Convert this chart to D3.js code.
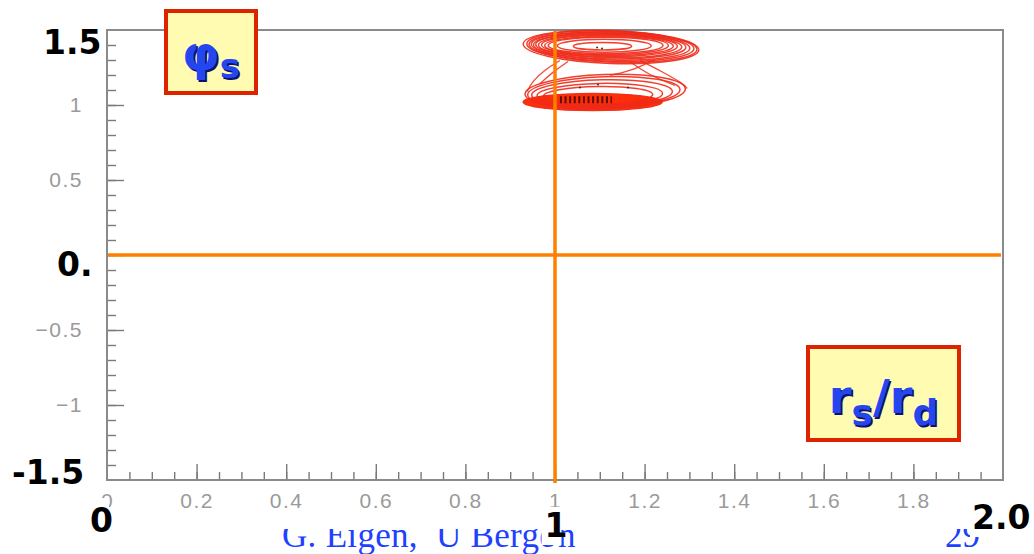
<!DOCTYPE html>
<html>
<head>
<meta charset="utf-8">
<script src="https://cdn.jsdelivr.net/npm/d3@7"></script>
<style>
  body { margin: 0; background: #fff; }
  svg { display: block; }
</style>
</head>
<body>
<svg id="chart" width="1034" height="554"></svg>
<script>
// axis ranges and labels
const xDomain = [0, 2];
const yDomain = [-1.5, 1.5];
const xLabelTicks = [0, 0.2, 0.4, 0.6, 0.8, 1, 1.2, 1.4, 1.6, 1.8];
const yLabelTicks = [-1, -0.5, 0.5, 1];
const refX = [1];
const refY = [0];

// contour rings [cx, cy, rx, ry, tilt(deg)] in data units
const upperRings = [
  [1.125, 1.387, 0.196, 0.110, 2],
  [1.127, 1.389, 0.190, 0.104, 2],
  [1.126, 1.390, 0.184, 0.098, 1.5],
  [1.124, 1.392, 0.177, 0.092, 1.5],
  [1.122, 1.393, 0.170, 0.086, 1],
  [1.120, 1.395, 0.163, 0.080, 1],
  [1.118, 1.396, 0.155, 0.074, 0.5],
  [1.117, 1.397, 0.147, 0.068, 0.5],
  [1.115, 1.397, 0.138, 0.062, 0],
  [1.113, 1.397, 0.128, 0.055, 0],
  [1.110, 1.395, 0.105, 0.043, 0],
  [1.106, 1.392, 0.065, 0.025, 0]
];
const lowerRings = [
  [1.112, 1.090, 0.179, 0.113, -2],
  [1.109, 1.085, 0.170, 0.104, -2],
  [1.105, 1.078, 0.157, 0.090, -1.5],
  [1.100, 1.070, 0.140, 0.074, -1],
  [1.096, 1.063, 0.122, 0.060, -1]
];
const lowerCore = [[1.084, 1.020, 0.155, 0.057, 0]];
const bridges = [
  [[1.011, 1.297], [0.978, 1.237], [0.949, 1.157], [0.938, 1.090]],
  [[1.029, 1.290], [0.996, 1.223], [0.967, 1.143]],
  [[1.190, 1.297], [1.239, 1.223], [1.286, 1.143], [1.295, 1.110]],
  [[1.167, 1.290], [1.208, 1.203], [1.268, 1.130]],
  [[1.223, 1.303], [1.179, 1.237], [1.123, 1.197]]
];
const hatch = [[1.011, 1.035], [1.127, 1.035]];
const peaks = [[1.105, 1.377], [1.094, 1.384], [1.096, 1.137], [1.056, 1.117], [1.163, 1.117]];

const svg = d3.select('#chart');

const x = d3.scaleLinear().domain(xDomain).range([107, 1003]);
const y = d3.scaleLinear().domain(yDomain).range([480, 30]);

// ticks (drawn inward like ROOT)
const tickCol = '#7a7a7a';
const xMinor = x.ticks(40).filter(d => d > 0 && d < 2);
const xMajor = x.ticks(10).filter(d => d > 0 && d < 2);
const yMinor = y.ticks(30).filter(d => d > -1.5 && d < 1.5);
const yMajor = y.ticks(6).filter(d => d > -1.5 && d < 1.5);

const styleLabels = (sel) => sel.selectAll('text')
  .attr('font-family', 'Liberation Sans').attr('font-size', 21)
  .attr('fill', '#9a9a9a').attr('letter-spacing', 1.5);

const gx = svg.append('g').attr('transform', `translate(0,${y(-1.5)})`);
gx.call(d3.axisBottom(x).tickValues(xMinor).tickSizeInner(-8).tickSizeOuter(0).tickFormat(''));
gx.append('g').call(d3.axisBottom(x).tickValues(xMajor).tickSizeInner(-16).tickSizeOuter(0).tickFormat(''));
gx.append('g').call(d3.axisBottom(x).tickValues(xLabelTicks).tickSize(0).tickPadding(13).tickFormat(d3.format('')));
gx.selectAll('.domain').remove();
gx.selectAll('line').attr('stroke', tickCol).attr('stroke-width', 1.4);
styleLabels(gx);

const gy = svg.append('g').attr('transform', `translate(${x(0)},0)`);
gy.call(d3.axisLeft(y).tickValues(yMinor).tickSizeInner(-9).tickSizeOuter(0).tickFormat(''));
gy.append('g').call(d3.axisLeft(y).tickValues(yMajor).tickSizeInner(-17).tickSizeOuter(0).tickFormat(''));
gy.append('g').call(d3.axisLeft(y).tickValues(yLabelTicks).tickSize(0).tickPadding(24).tickFormat(d3.format('')));
gy.selectAll('.domain').remove();
gy.selectAll('line').attr('stroke', tickCol).attr('stroke-width', 1.4);
styleLabels(gy);

// frame
svg.append('rect')
  .attr('x', x(0)).attr('y', y(1.5))
  .attr('width', x(2) - x(0)).attr('height', y(-1.5) - y(1.5))
  .attr('fill', 'none').attr('stroke', '#8a8a8a').attr('stroke-width', 2);

// contours
const cont = svg.append('g');
const ell = (sel) => sel
  .attr('cx', d => x(d[0])).attr('cy', d => y(d[1]))
  .attr('rx', d => x(d[0] + d[2]) - x(d[0]))
  .attr('ry', d => y(d[1] - d[3]) - y(d[1]))
  .attr('transform', d => `rotate(${d[4]},${x(d[0])},${y(d[1])})`);

cont.selectAll('ellipse.core').data(lowerCore).enter().append('ellipse')
  .attr('class', 'core').call(ell)
  .attr('fill', '#ff2e0a').attr('stroke', '#f03018').attr('stroke-width', 1.5);

cont.selectAll('ellipse.ring').data(upperRings.concat(lowerRings)).enter().append('ellipse')
  .attr('class', 'ring').call(ell)
  .attr('fill', 'none').attr('stroke', '#ee2a18').attr('stroke-width', 1.5).attr('opacity', 0.9);

const line = d3.line().x(d => x(d[0])).y(d => y(d[1])).curve(d3.curveBasis);
cont.selectAll('path.bridge').data(bridges).enter().append('path')
  .attr('class', 'bridge').attr('d', line)
  .attr('fill', 'none').attr('stroke', '#ee2a18').attr('stroke-width', 1.3).attr('opacity', 0.85);

cont.append('path').datum(hatch)
  .attr('d', d3.line().x(d => x(d[0])).y(d => y(d[1])))
  .attr('stroke', '#5e0c00').attr('stroke-width', 7).attr('stroke-dasharray', '2 2.6');

cont.selectAll('circle.peak').data(peaks).enter().append('circle')
  .attr('cx', d => x(d[0])).attr('cy', d => y(d[1])).attr('r', 1)
  .attr('fill', '#333');

// orange reference lines
const orange = '#ff8000';
svg.selectAll('line.refy').data(refY).enter().append('line')
  .attr('x1', x(0) + 1).attr('x2', x(2) - 2)
  .attr('y1', d => y(d)).attr('y2', d => y(d))
  .attr('stroke', orange).attr('stroke-width', 3.5);
svg.selectAll('line.refx').data(refX).enter().append('line')
  .attr('x1', d => x(d)).attr('x2', d => x(d))
  .attr('y1', y(1.5) + 1).attr('y2', y(-1.5) + 3)
  .attr('stroke', orange).attr('stroke-width', 3.5);

// footer (top part hidden under the plot panel)
svg.append('clipPath').attr('id', 'footClip')
  .append('rect').attr('x', 0).attr('y', 529).attr('width', 1034).attr('height', 30);
const foot = svg.append('g').attr('clip-path', 'url(#footClip)')
  .attr('font-family', 'Liberation Serif').attr('font-size', 35).attr('fill', '#2040ff');
const ft = foot.append('text').attr('x', 282).attr('y', 547).attr('xml:space', 'preserve')
  .attr('letter-spacing', 0.3);
ft.append('tspan').text('G. Eigen,  U Berge');
ft.append('tspan').attr('dx', 3).text('n');
foot.append('text').attr('x', 945).attr('y', 547).text('29');

// big black axis annotations with white backing [pad left, pad right, pad top]
const bigLabels = [
  { t: '1.5', x: 43, y: 54, a: 'start', p: [2, 2, -2] },
  { t: '0.', x: 57, y: 276, a: 'start', p: [2, 2, -2] },
  { t: '-1.5', x: 12, y: 484, a: 'start', p: [2, 2, -2] },
  { t: '0', x: 90, y: 532, a: 'start', p: [2, -4, 3] },
  { t: '1', x: 556, y: 537, a: 'middle', p: [3, -6, -1] },
  { t: '2.0', x: 972, y: 529, a: 'start', p: [2, 2, -2] }
];
bigLabels.forEach(l => {
  const g = svg.append('g');
  const t = g.append('text').attr('x', l.x).attr('y', l.y).attr('text-anchor', l.a)
    .attr('font-family', 'DejaVu Sans').attr('font-weight', 'bold').attr('font-size', 33)
    .attr('fill', '#000').text(l.t);
  const b = t.node().getBBox();
  g.insert('rect', 'text').attr('x', b.x - l.p[0]).attr('y', b.y - l.p[2])
    .attr('width', b.width + l.p[0] + l.p[1]).attr('height', b.height + l.p[2]).attr('fill', '#fff');
});

// yellow labels
function boxLabel(bx, by, bw, bh, parts, baseY) {
  const g = svg.append('g');
  g.append('rect').attr('x', bx).attr('y', by).attr('width', bw).attr('height', bh)
    .attr('fill', '#fffbb0').attr('stroke', '#dc2400').attr('stroke-width', 4);
  [['#10106a', 1.6], ['#2446f0', 0]].forEach(([col, off]) => {
    const t = g.append('text').attr('x', bx + bw / 2 + off).attr('y', baseY + off)
      .attr('text-anchor', 'middle').attr('font-family', 'DejaVu Sans')
      .attr('font-weight', 'bold').attr('fill', col);
    parts.forEach(p => t.append('tspan').attr('font-size', p.s).attr('dy', p.dy).text(p.t));
  });
}
boxLabel(166, 11, 90, 82, [{ t: 'φ', s: 48, dy: 0 }, { t: 's', s: 34, dy: 8 }], 70);
boxLabel(808, 347, 151, 93, [
  { t: 'r', s: 46, dy: 0 }, { t: 's', s: 36, dy: 12 }, { t: '/', s: 46, dy: -12 },
  { t: 'r', s: 46, dy: 0 }, { t: 'd', s: 36, dy: 12 }
], 413);
</script>
</body>
</html>
